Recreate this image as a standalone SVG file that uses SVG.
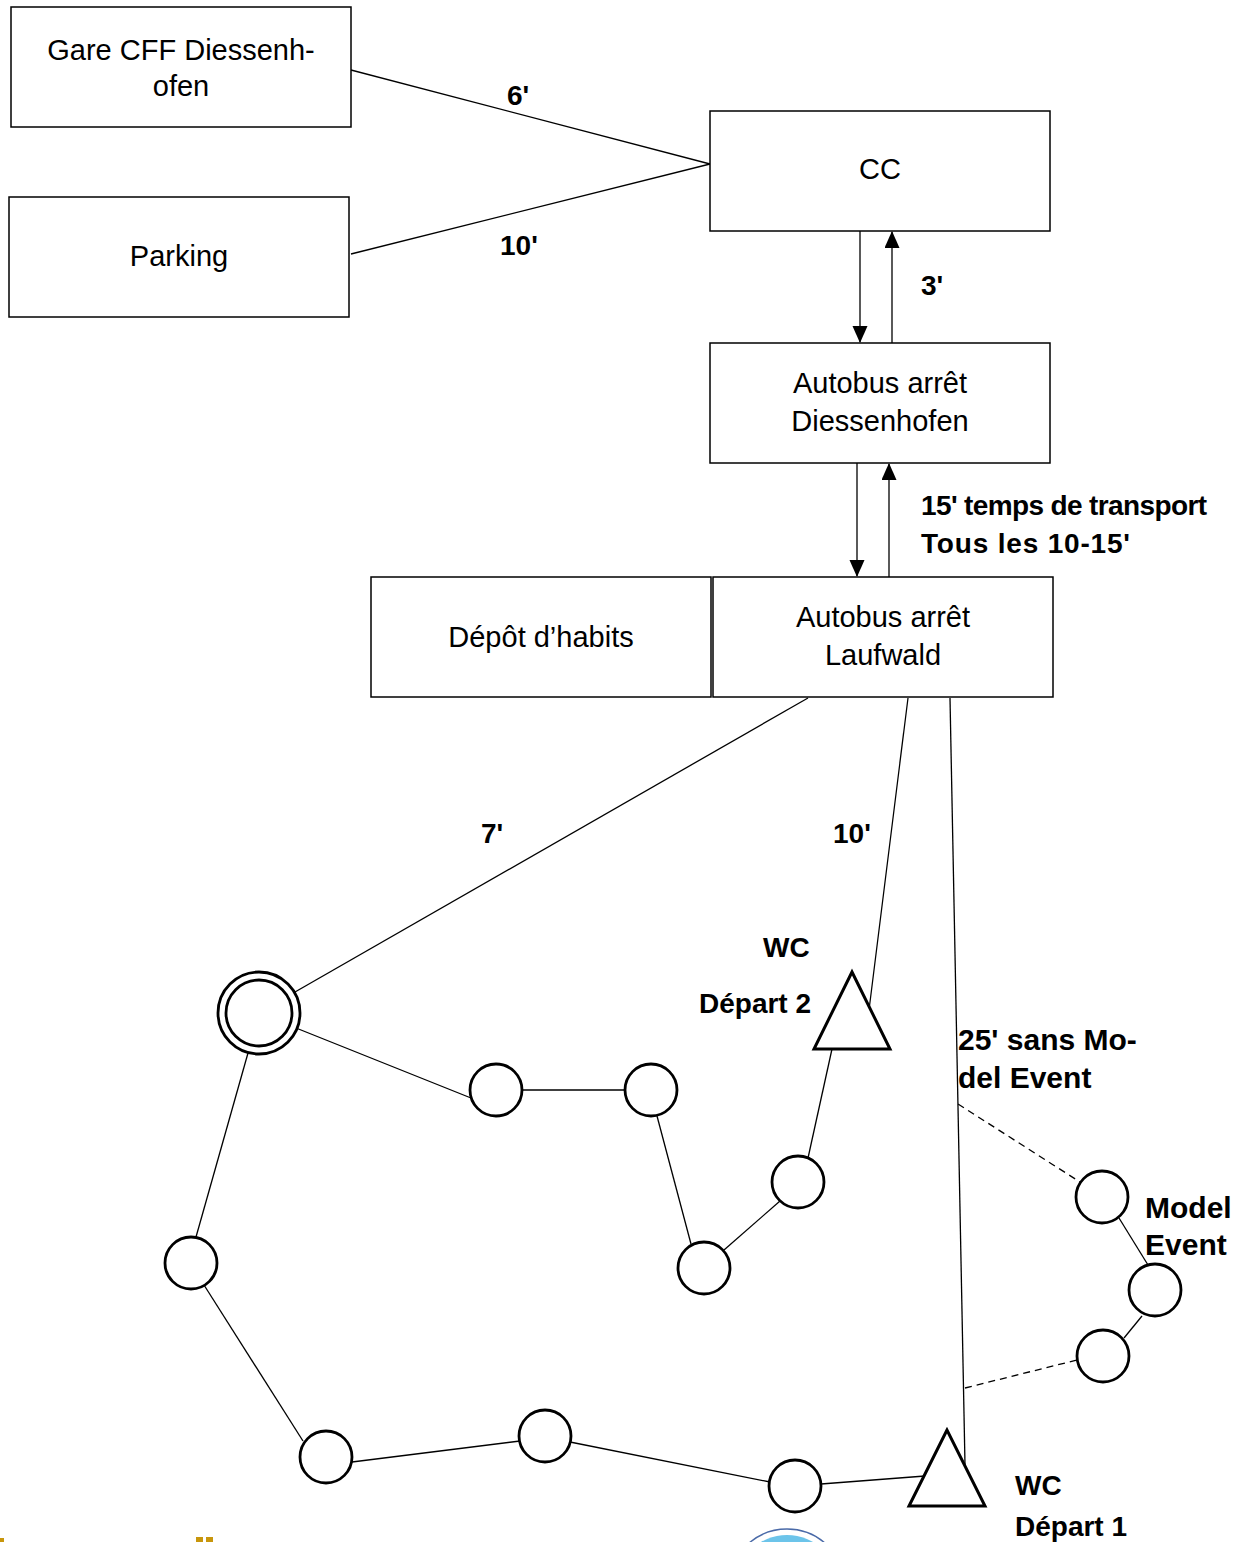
<svg xmlns="http://www.w3.org/2000/svg" width="1248" height="1542" viewBox="0 0 1248 1542">
<style>
.box{fill:#fff;stroke:#000;stroke-width:1.5}
.t{font-family:"Liberation Sans",Arial,sans-serif;font-size:29px;fill:#000;text-anchor:middle}
.b{font-family:"Liberation Sans",Arial,sans-serif;font-size:28px;font-weight:bold;fill:#000}
.b30{font-size:30px}
.ln{stroke:#000;stroke-width:1.3;fill:none}
.dash{stroke:#000;stroke-width:1.3;fill:none;stroke-dasharray:7,5}
.c{fill:#fff;stroke:#000;stroke-width:2.8}
.tri{fill:#fff;stroke:#000;stroke-width:3;stroke-linejoin:miter}
</style>
<defs>
<marker id="ah" markerWidth="18" markerHeight="16" refX="16" refY="7.5" orient="auto" markerUnits="userSpaceOnUse">
<path d="M0,0 L17,7.5 L0,15 Z" fill="#000"/>
</marker>
</defs>
<rect width="1248" height="1542" fill="#fff"/>
<g id="connectors">
<line class="ln" x1="351" y1="70" x2="710" y2="164"/>
<line class="ln" x1="351" y1="254" x2="710" y2="164"/>
<line class="ln" x1="860" y1="231" x2="860" y2="342" marker-end="url(#ah)"/>
<line class="ln" x1="892" y1="343" x2="892" y2="232" marker-end="url(#ah)"/>
<line class="ln" x1="857" y1="463" x2="857" y2="576" marker-end="url(#ah)"/>
<line class="ln" x1="889" y1="577" x2="889" y2="464" marker-end="url(#ah)"/>
<line class="ln" x1="808" y1="698" x2="295" y2="992"/>
<line class="ln" x1="908" y1="698" x2="869" y2="1010"/>
<line class="ln" x1="950" y1="698" x2="965" y2="1465"/>
<line class="ln" x1="296" y1="1028" x2="471" y2="1098"/>
<line class="ln" x1="522" y1="1090" x2="625" y2="1090"/>
<line class="ln" x1="657" y1="1116" x2="691" y2="1244"/>
<line class="ln" x1="724" y1="1250" x2="780" y2="1201"/>
<line class="ln" x1="808" y1="1158" x2="832" y2="1049"/>
<line class="ln" x1="248" y1="1053" x2="196" y2="1237"/>
<line class="ln" x1="204" y1="1285" x2="303" y2="1441"/>
<line class="ln" x1="352" y1="1462" x2="520" y2="1441"/>
<line class="ln" x1="570" y1="1442" x2="770" y2="1482"/>
<line class="ln" x1="821" y1="1484" x2="925" y2="1476"/>
<line class="dash" x1="958" y1="1104" x2="1080" y2="1182"/>
<line class="dash" x1="965" y1="1388" x2="1077" y2="1360"/>
<line class="ln" x1="1119" y1="1218" x2="1148" y2="1265"/>
<line class="ln" x1="1142" y1="1316" x2="1124" y2="1338"/>
</g>
<g id="gare"><rect class="box" x="11" y="7" width="340" height="120"/><text class="t" x="181" y="60">Gare CFF Diessenh-</text><text class="t" x="181" y="96">ofen</text></g>
<g id="parking"><rect class="box" x="9" y="197" width="340" height="120"/><text class="t" x="179" y="266">Parking</text></g>
<g id="cc"><rect class="box" x="710" y="111" width="340" height="120"/><text class="t" x="880" y="179">CC</text></g>
<g id="autobus-diessenhofen"><rect class="box" x="710" y="343" width="340" height="120"/><text class="t" x="880" y="393">Autobus arrêt</text><text class="t" x="880" y="431">Diessenhofen</text></g>
<g id="depot"><rect class="box" x="371" y="577" width="340" height="120"/><text class="t" x="541" y="647">Dépôt d’habits</text></g>
<g id="autobus-laufwald"><rect class="box" x="713" y="577" width="340" height="120"/><text class="t" x="883" y="627">Autobus arrêt</text><text class="t" x="883" y="665">Laufwald</text></g>
<g id="labels">
<text class="b" x="507" y="105">6'</text>
<text class="b" x="500" y="255">10'</text>
<text class="b" x="921" y="295">3'</text>
<text class="b" x="921" y="515" textLength="286" lengthAdjust="spacing">15' temps de transport</text>
<text class="b" x="921" y="553" textLength="209" lengthAdjust="spacing">Tous les 10-15'</text>
<text class="b" x="481" y="843">7'</text>
<text class="b" x="833" y="843">10'</text>
<text class="b b30" x="958" y="1050">25' sans Mo-</text>
<text class="b b30" x="958" y="1088">del Event</text>
</g>
<g id="start"><circle class="c" cx="259" cy="1013" r="41"/><circle class="c" cx="259" cy="1013" r="33"/></g>
<g id="p1"><circle class="c" cx="496" cy="1090" r="26"/></g>
<g id="p2"><circle class="c" cx="651" cy="1090" r="26"/></g>
<g id="p3"><circle class="c" cx="798" cy="1182" r="26"/></g>
<g id="p4"><circle class="c" cx="704" cy="1268" r="26"/></g>
<g id="p5"><circle class="c" cx="191" cy="1263" r="26"/></g>
<g id="p6"><circle class="c" cx="326" cy="1457" r="26"/></g>
<g id="p7"><circle class="c" cx="545" cy="1436" r="26"/></g>
<g id="p8"><circle class="c" cx="795" cy="1486" r="26"/></g>
<g id="m1"><circle class="c" cx="1102" cy="1197" r="26"/><text class="b b30" x="1145" y="1218">Model</text><text class="b b30" x="1145" y="1255">Event</text></g>
<g id="m2"><circle class="c" cx="1155" cy="1290" r="26"/></g>
<g id="m3"><circle class="c" cx="1103" cy="1356" r="26"/></g>
<g id="depart2"><polygon class="tri" points="852,972 814,1049 890,1049"/><text class="b" x="763" y="957">WC</text><text class="b" x="699" y="1013">Départ 2</text></g>
<g id="depart1"><polygon class="tri" points="947,1430 909,1506 985,1506"/><text class="b" x="1015" y="1495">WC</text><text class="b" x="1015" y="1536">Départ 1</text></g>
<g id="fragments">
<circle cx="787" cy="1587" r="58" fill="#fff" stroke="#4a6aa8" stroke-width="1.5"/>
<circle cx="787" cy="1587" r="52" fill="#6cc4ea"/>
<rect x="196" y="1537" width="7" height="5" fill="#c8960c"/>
<rect x="206" y="1537" width="7" height="5" fill="#c8960c"/>
<rect x="0" y="1538" width="4" height="4" fill="#c8960c"/>
</g>
</svg>
